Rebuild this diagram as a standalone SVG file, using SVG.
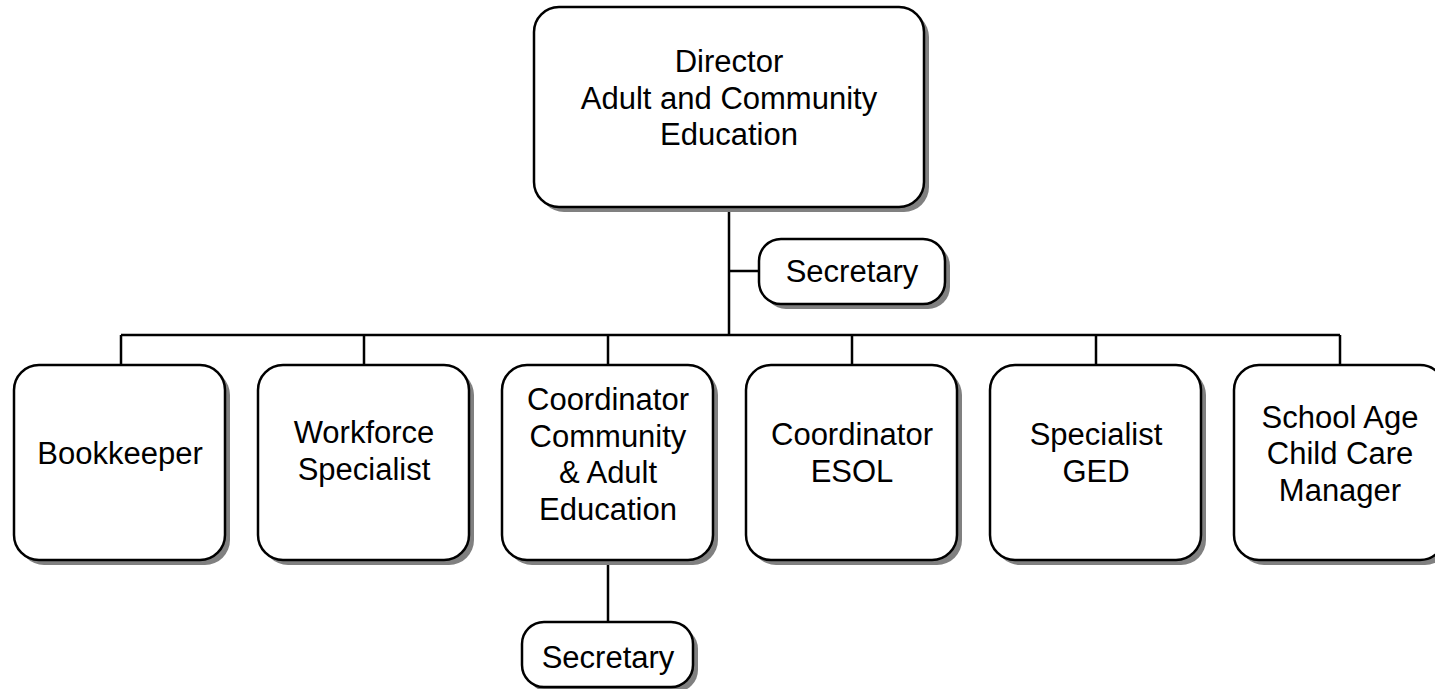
<svg xmlns="http://www.w3.org/2000/svg" width="1435" height="689" viewBox="0 0 1435 689">
<style>
.sh{fill:#808080;stroke:none}
.bx{fill:#ffffff;stroke:#000000;stroke-width:2.5}
.t{font-family:"Liberation Sans",Arial,sans-serif;font-size:31px;fill:#000000;text-anchor:middle}
.ln{fill:none;stroke:#000000;stroke-width:2.5}
</style>
<rect width="1435" height="689" fill="#ffffff"/>
<g id="connectors">
<path class="ln" d="M729 207 V335 M729 271 H759 M121 335 H1340 M121 335 V365 M364 335 V365 M608 335 V365 M852 335 V365 M1096 335 V365 M1340 335 V365 M608 560 V622"/>
</g>
<g id="director">
<rect class="sh" x="539" y="12" width="390" height="200" rx="25"/>
<rect class="bx" x="534" y="7" width="390" height="200" rx="25"/>
<text class="t" x="729" y="72">Director</text>
<text class="t" x="729" y="108.5">Adult and Community</text>
<text class="t" x="729" y="145">Education</text>
</g>
<g id="secretary1">
<rect class="sh" x="764" y="244" width="186" height="65" rx="22"/>
<rect class="bx" x="759" y="239" width="186" height="65" rx="22"/>
<text class="t" x="852" y="282">Secretary</text>
</g>
<g id="bookkeeper">
<rect class="sh" x="19" y="370" width="211" height="195" rx="25"/>
<rect class="bx" x="14" y="365" width="211" height="195" rx="25"/>
<text class="t" x="120" y="464">Bookkeeper</text>
</g>
<g id="workforce">
<rect class="sh" x="263" y="370" width="211" height="195" rx="25"/>
<rect class="bx" x="258" y="365" width="211" height="195" rx="25"/>
<text class="t" x="364" y="443">Workforce</text>
<text class="t" x="364" y="479.5">Specialist</text>
</g>
<g id="coordinator-cae">
<rect class="sh" x="507" y="370" width="211" height="195" rx="25"/>
<rect class="bx" x="502" y="365" width="211" height="195" rx="25"/>
<text class="t" x="608" y="410">Coordinator</text>
<text class="t" x="608" y="446.5">Community</text>
<text class="t" x="608" y="483">&amp; Adult</text>
<text class="t" x="608" y="519.5">Education</text>
</g>
<g id="coordinator-esol">
<rect class="sh" x="751" y="370" width="211" height="195" rx="25"/>
<rect class="bx" x="746" y="365" width="211" height="195" rx="25"/>
<text class="t" x="852" y="445">Coordinator</text>
<text class="t" x="852" y="481.5">ESOL</text>
</g>
<g id="specialist-ged">
<rect class="sh" x="995" y="370" width="211" height="195" rx="25"/>
<rect class="bx" x="990" y="365" width="211" height="195" rx="25"/>
<text class="t" x="1096" y="445">Specialist</text>
<text class="t" x="1096" y="481.5">GED</text>
</g>
<g id="school-age">
<rect class="sh" x="1239" y="370" width="211" height="195" rx="25"/>
<rect class="bx" x="1234" y="365" width="211" height="195" rx="25"/>
<text class="t" x="1340" y="427.5">School Age</text>
<text class="t" x="1340" y="464">Child Care</text>
<text class="t" x="1340" y="500.5">Manager</text>
</g>
<g id="secretary2">
<rect class="sh" x="527" y="627" width="171" height="65" rx="22"/>
<rect class="bx" x="522" y="622" width="171" height="65" rx="22"/>
<text class="t" x="608" y="668">Secretary</text>
</g>
</svg>
